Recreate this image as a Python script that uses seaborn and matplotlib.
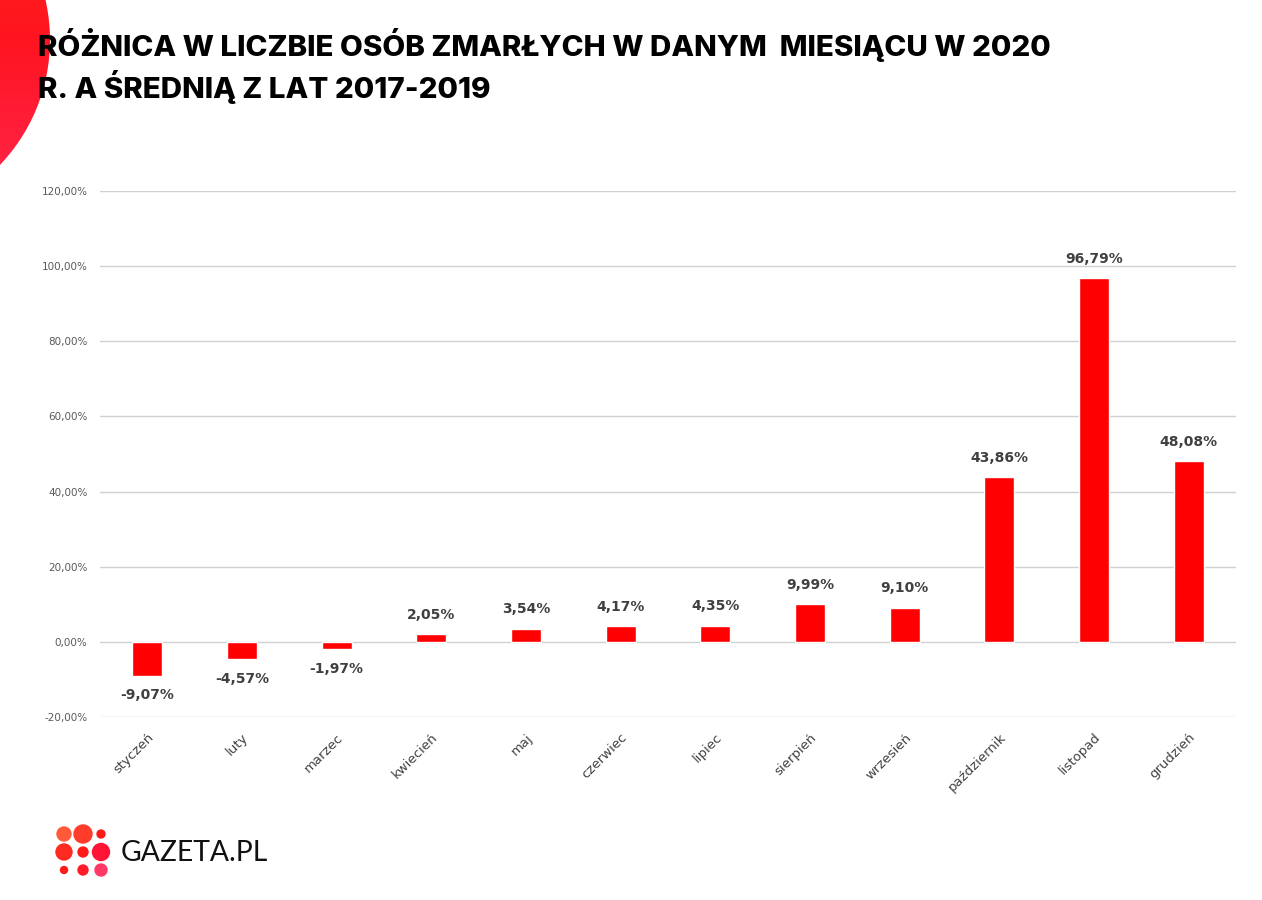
import numpy as np
import pandas as pd
import seaborn as sns
import matplotlib.pyplot as plt
from matplotlib.patches import Circle
from matplotlib.colors import LinearSegmentedColormap

months = ["styczeń", "luty", "marzec", "kwiecień", "maj", "czerwiec", "lipiec",
          "sierpień", "wrzesień", "październik", "listopad", "grudzień"]
diff_pct = [-9.07, -4.57, -1.97, 2.05, 3.54, 4.17, 4.35, 9.99, 9.10, 43.86, 96.79, 48.08]
y_ticks = [-20, 0, 20, 40, 60, 80, 100, 120]

title_lines = ["RÓŻNICA W LICZBIE OSÓB ZMARŁYCH W DANYM  MIESIĄCU W 2020",
               "R. A ŚREDNIĄ Z LAT 2017-2019"]


def pl_pct(v):
    return f"{v:.2f}%".replace(".", ",")


def main():
    sns.set_theme(style="white")
    plt.rcParams['font.family'] = ['DejaVu Sans']
    W, H = 1262, 900
    fig = plt.figure(figsize=(W / 100, H / 100), dpi=100)

    # background decoration layer in pixel coords
    bg = fig.add_axes([0, 0, 1, 1], zorder=0)
    bg.axis("off")
    cmap = LinearSegmentedColormap.from_list("g", ["#ff3015", "#ff1420", "#ff2a55"])
    grad = np.linspace(0, 1, 256).reshape(-1, 1)
    im = bg.imshow(grad, cmap=cmap, extent=(-320, 60, 230, -150), aspect="auto")
    circ = Circle((-131, 40), 181, transform=bg.transData)
    im.set_clip_path(circ)
    bg.set_xlim(0, W)
    bg.set_ylim(H, 0)

    # logo dots
    dots = [(64, 834, 7, "#ff5a3a"), (83, 834, 9, "#ff3b2a"), (101, 834, 4, "#ff1a1a"),
            (64, 852, 8, "#ff2a22"), (83, 852, 5, "#ff1a1a"), (101, 852, 8.5, "#ff1438"),
            (64, 870, 3.5, "#ff1a1a"), (83, 870, 5, "#ff1a2a"), (101, 870, 6, "#ff3a66")]
    for x, y, r, c in dots:
        bg.add_patch(Circle((x, y), r, color=c, transform=bg.transData))
    bg.text(121, 853, "GAZETA.PL", fontsize=20.3, family="Lato", fontweight="normal",
            color="#111111", va="center", ha="left")

    for k, line in enumerate(title_lines):
        fig.text(38 / W, 1 - (45 + 42 * k) / H, line, fontsize=21.3, fontweight="heavy",
                 family="Inter", color="black", va="center", ha="left")

    # chart
    left, right, top, bottom = 100, 1236, 191, 717
    ax = fig.add_axes([left / W, 1 - bottom / H, (right - left) / W, (bottom - top) / H], zorder=2)
    ax.patch.set_alpha(0)
    df = pd.DataFrame({"month": months, "diff": diff_pct})
    sns.barplot(data=df, x="month", y="diff", color="#ff0000", saturation=1, width=0.32, ax=ax, zorder=3)
    ax.set_ylim(-20, 120)
    ax.set_xlim(-0.5, 11.5)
    ax.set_yticks(y_ticks)
    ax.set_yticklabels([pl_pct(v) for v in y_ticks], fontsize=7.5, color="#595959")
    ax.yaxis.grid(True, color="#d0d0d0", linewidth=1)
    ax.set_axisbelow(True)
    for s in ax.spines.values():
        s.set_visible(False)
    ax.tick_params(axis="both", length=0)
    ax.tick_params(axis="y", pad=9)
    ax.set_xlabel("")
    ax.set_ylabel("")
    ax.set_xticks(range(len(months)))
    ax.set_xticklabels(months, rotation=45, ha="right", rotation_mode="anchor",
                       fontsize=9.5, color="#404040", family="DejaVu Sans")
    ax.tick_params(axis="x", pad=10)

    for i, v in enumerate(diff_pct):
        off = 9 if v >= 0 else -9
        ax.annotate(pl_pct(v), (i, v), xytext=(0, off), textcoords="offset points",
                    ha="center", va="bottom" if v >= 0 else "top",
                    fontsize=10, fontweight="bold", color="#404040")

    fig.savefig("out.png", dpi=100)


if __name__ == "__main__":
    main()
